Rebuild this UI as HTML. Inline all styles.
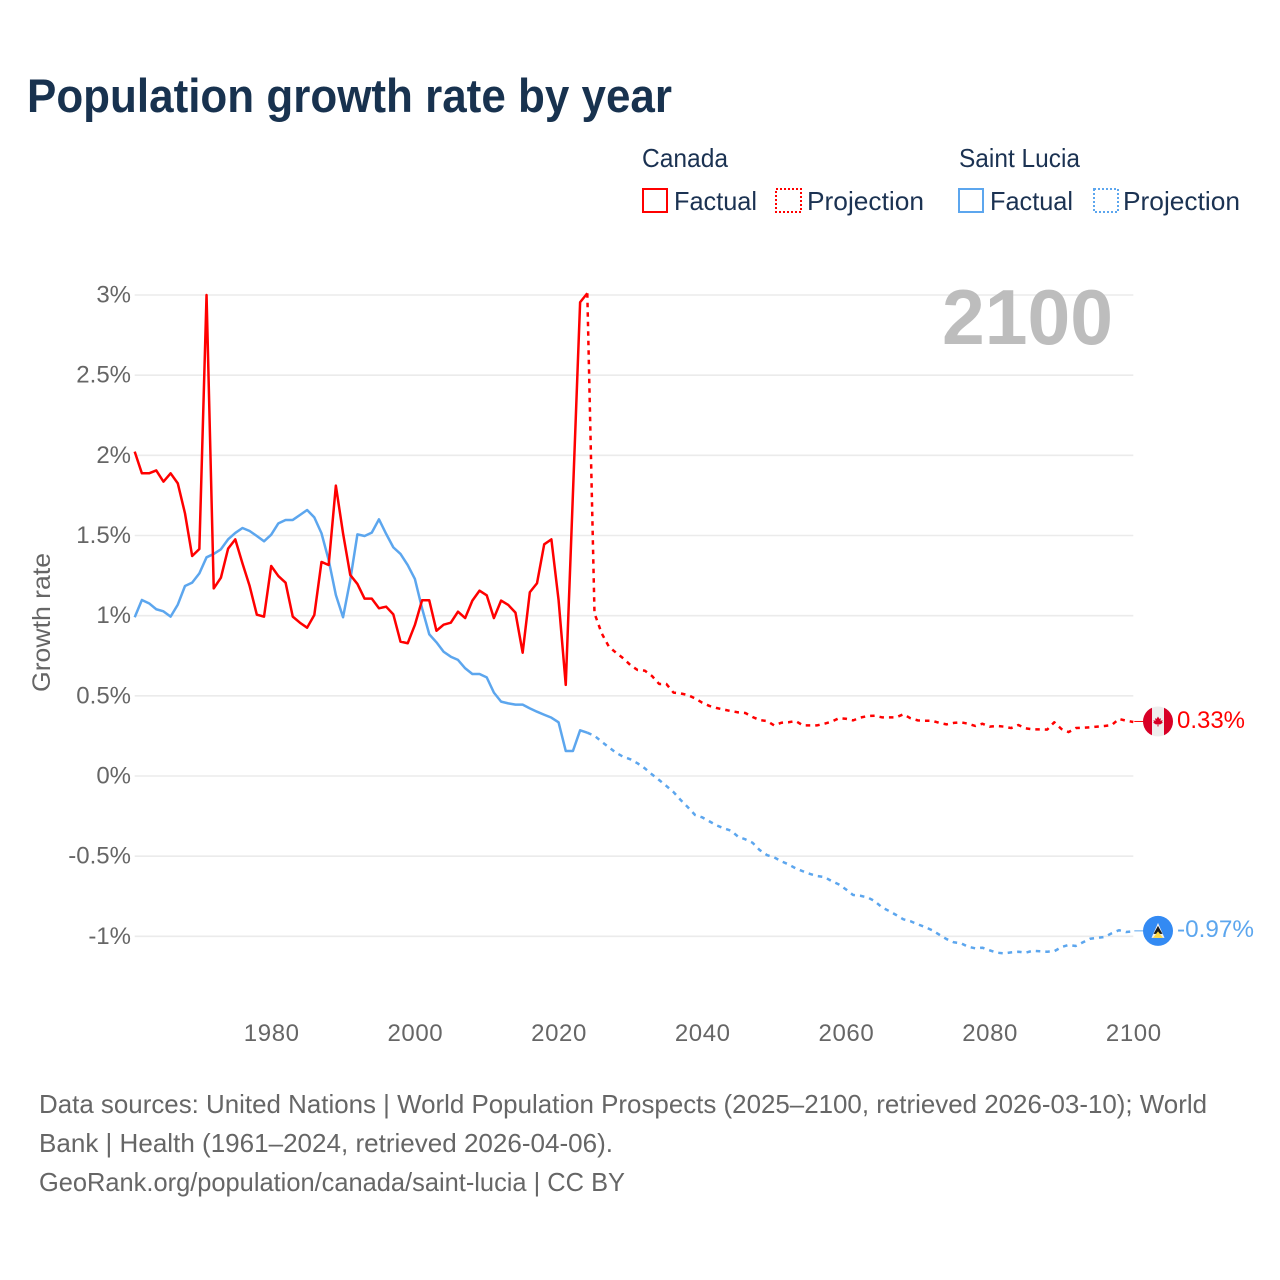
<!DOCTYPE html>
<html lang="en">
<head>
<meta charset="utf-8">
<title>Population growth rate by year</title>
<style>
html,body{margin:0;padding:0;background:#fff;width:1280px;height:1280px;overflow:hidden}
svg{display:block}
text{font-family:"Liberation Sans",sans-serif}
</style>
</head>
<body>
<svg id="chart" xmlns="http://www.w3.org/2000/svg" width="1280" height="1280" viewBox="0 0 1280 1280">
  <rect x="0" y="0" width="1280" height="1280" fill="#fff"/>
  <text x="27" y="112" font-size="47" font-weight="700" fill="#18324f" textLength="645" lengthAdjust="spacingAndGlyphs">Population growth rate by year</text>

  <g font-size="26" fill="#1b3252">
    <text x="642" y="167" textLength="86" lengthAdjust="spacingAndGlyphs">Canada</text>
    <text x="959" y="167" textLength="121" lengthAdjust="spacingAndGlyphs">Saint Lucia</text>
    <g>
      <rect x="643" y="189" width="24" height="23" fill="none" stroke="#ff0000" stroke-width="2"/>
      <text x="674" y="210" textLength="83" lengthAdjust="spacingAndGlyphs">Factual</text>
    </g>
    <g>
      <rect x="776" y="189" width="25" height="23" fill="none" stroke="#ff0000" stroke-width="2" stroke-dasharray="2 2"/>
      <text x="807" y="210" textLength="117" lengthAdjust="spacingAndGlyphs">Projection</text>
    </g>
    <g>
      <rect x="959" y="189" width="24" height="23" fill="none" stroke="#5ca6ee" stroke-width="2"/>
      <text x="990" y="210" textLength="83" lengthAdjust="spacingAndGlyphs">Factual</text>
    </g>
    <g>
      <rect x="1094" y="189" width="24" height="23" fill="none" stroke="#5ca6ee" stroke-width="2" stroke-dasharray="2 2"/>
      <text x="1123" y="210" textLength="117" lengthAdjust="spacingAndGlyphs">Projection</text>
    </g>
  </g>

  <g id="grid"></g>
  <g id="yaxis"></g>
  <g id="xaxis"></g>
  <text transform="translate(50,692) rotate(-90)" font-size="25" fill="#666" textLength="139" lengthAdjust="spacingAndGlyphs">Growth rate</text>
  <text x="942" y="344" font-size="78" font-weight="700" fill="#bdbdbd" textLength="171" lengthAdjust="spacingAndGlyphs">2100</text>

  <g id="series"></g>

  <g id="flag-canada">
    <clipPath id="clip-ca"><circle cx="0" cy="0" r="15"/></clipPath>
    <g clip-path="url(#clip-ca)">
      <rect x="-15" y="-15" width="30" height="30" fill="#eeeeee"/>
      <rect x="-15" y="-15" width="9" height="30" fill="#d80027"/>
      <rect x="6" y="-15" width="9" height="30" fill="#d80027"/>
      <polygon points="0,-5 1.4,-2.6 3,-3.2 2.4,-0.6 4.6,-1.4 4,0.6 5,1.2 2,3 0.5,2.6 0.5,5 -0.5,5 -0.5,2.6 -2,3 -5,1.2 -4,0.6 -4.6,-1.4 -2.4,-0.6 -3,-3.2 -1.4,-2.6" fill="#d80027"/>
    </g>
  </g>
  <g id="flag-lucia">
    <circle cx="0" cy="0" r="15" fill="#338af3"/>
    <polygon points="0,-8 6.5,7 -6.5,7" fill="#f0f0f0"/>
    <polygon points="0,-5 4.5,3 -4.5,3" fill="#1a1a1a"/>
    <polygon points="0,0.5 5,7 -5,7" fill="#ffda44"/>
  </g>

  <g font-size="26" fill="#666">
    <text x="39" y="1113" textLength="1168" lengthAdjust="spacingAndGlyphs">Data sources: United Nations | World Population Prospects (2025–2100, retrieved 2026-03-10); World</text>
    <text x="39" y="1152" textLength="574" lengthAdjust="spacingAndGlyphs">Bank | Health (1961–2024, retrieved 2026-04-06).</text>
    <text x="39" y="1191" textLength="586" lengthAdjust="spacingAndGlyphs">GeoRank.org/population/canada/saint-lucia | CC BY</text>
  </g>
</svg>
<script>
const yTickValues = [3, 2.5, 2, 1.5, 1, 0.5, 0, -0.5, -1];
const yTickLabels = ["3%", "2.5%", "2%", "1.5%", "1%", "0.5%", "0%", "-0.5%", "-1%"];
const xTickValues = [1980, 2000, 2020, 2040, 2060, 2080, 2100];
const xTickLabels = ["1980", "2000", "2020", "2040", "2060", "2080", "2100"];
const factualStartYear = 1961;
const projectionStartYear = 2024;
const canadaFactual = [2.023,1.888,1.888,1.906,1.836,1.888,1.825,1.638,1.372,1.416,3.0,1.17,1.237,1.418,1.476,1.326,1.185,1.006,0.994,1.31,1.247,1.206,0.994,0.956,0.925,1.004,1.335,1.316,1.811,1.514,1.254,1.198,1.106,1.106,1.046,1.056,1.008,0.838,0.828,0.942,1.096,1.096,0.906,0.944,0.956,1.025,0.985,1.094,1.156,1.127,0.985,1.094,1.067,1.019,0.769,1.146,1.202,1.445,1.476,1.098,0.568,1.761,2.955,3.011];
const luciaFactual = [0.99,1.098,1.077,1.04,1.027,0.994,1.069,1.185,1.206,1.264,1.364,1.385,1.414,1.476,1.516,1.547,1.528,1.497,1.464,1.505,1.576,1.597,1.597,1.628,1.659,1.613,1.514,1.347,1.129,0.99,1.222,1.507,1.497,1.518,1.601,1.51,1.426,1.385,1.316,1.229,1.046,0.884,0.834,0.775,0.744,0.724,0.672,0.636,0.636,0.615,0.52,0.464,0.453,0.445,0.445,0.422,0.401,0.382,0.364,0.335,0.156,0.156,0.285,0.27];
const canadaProjection = [3.011,1.015,0.89,0.807,0.769,0.734,0.692,0.661,0.657,0.624,0.574,0.574,0.52,0.515,0.505,0.484,0.457,0.437,0.424,0.414,0.405,0.397,0.393,0.368,0.349,0.343,0.316,0.332,0.335,0.343,0.316,0.316,0.316,0.326,0.339,0.36,0.357,0.347,0.364,0.374,0.376,0.366,0.366,0.366,0.385,0.36,0.347,0.345,0.345,0.331,0.322,0.331,0.335,0.326,0.312,0.326,0.308,0.312,0.308,0.299,0.318,0.297,0.291,0.291,0.289,0.335,0.293,0.274,0.299,0.301,0.304,0.308,0.312,0.318,0.356,0.345,0.337];
const luciaProjection = [0.27,0.251,0.214,0.179,0.145,0.12,0.104,0.079,0.048,0.01,-0.025,-0.062,-0.1,-0.15,-0.195,-0.243,-0.258,-0.283,-0.308,-0.326,-0.341,-0.379,-0.395,-0.416,-0.462,-0.493,-0.507,-0.532,-0.551,-0.576,-0.594,-0.611,-0.624,-0.63,-0.655,-0.676,-0.707,-0.742,-0.747,-0.757,-0.78,-0.819,-0.842,-0.867,-0.894,-0.906,-0.925,-0.942,-0.962,-0.99,-1.017,-1.037,-1.043,-1.065,-1.075,-1.071,-1.087,-1.102,-1.106,-1.1,-1.096,-1.102,-1.09,-1.093,-1.096,-1.093,-1.067,-1.054,-1.06,-1.037,-1.015,-1.009,-1.004,-0.981,-0.962,-0.973,-0.969];
const canadaValueLabel = "0.33%";
const luciaValueLabel = "-0.97%";

const NS = "http://www.w3.org/2000/svg";
const xScale = year => 134.7 + (year - 1961) * (1133.3 - 134.7) / (2100 - 1961);
const yScale = pct => 776 - pct * 160.33;
const RED = "#ff0000";
const BLUE = "#5ca6ee";

function svgEl(tag, attrs, parent) {
  const el = document.createElementNS(NS, tag);
  for (const k in attrs) el.setAttribute(k, attrs[k]);
  parent.appendChild(el);
  return el;
}
function linePoints(values, startYear) {
  return values.map((v, i) => xScale(startYear + i).toFixed(2) + "," + yScale(v).toFixed(2)).join(" ");
}

const grid = document.getElementById("grid");
const yaxis = document.getElementById("yaxis");
const xaxis = document.getElementById("xaxis");
const series = document.getElementById("series");

yTickValues.forEach((v, i) => {
  const line = svgEl("line", {x1: 134.7, x2: 1133.3, y1: yScale(v), y2: yScale(v), stroke: "#ebebeb", "stroke-width": 1.6}, grid);
  
  
  const t = svgEl("text", {x: 131, y: yScale(v) + 7.5, "text-anchor": "end", "font-size": 24, fill: "#666"}, yaxis);
  
  
  t.textContent = yTickLabels[i];
});

xTickValues.forEach((v, i) => {
  const t = svgEl("text", {x: xScale(v) + 0.5, y: 1041, "text-anchor": "middle", "font-size": 24, "letter-spacing": 0.6, fill: "#666"}, xaxis);
  
  
  t.textContent = xTickLabels[i];
});

function drawLine(values, startYear, color, dashed, name) {
  const attrs = {points: linePoints(values, startYear), fill: "none", stroke: color, "stroke-width": 2.5, "stroke-linejoin": "round"};
  if (dashed) attrs["stroke-dasharray"] = "4.5 5";
  const p = svgEl("polyline", attrs, series);
  
  
}
drawLine(luciaFactual, factualStartYear, BLUE, false, "line-saint-lucia-factual");
drawLine(luciaProjection, projectionStartYear, BLUE, true, "line-saint-lucia-projection");
drawLine(canadaFactual, factualStartYear, RED, false, "line-canada-factual");
drawLine(canadaProjection, projectionStartYear, RED, true, "line-canada-projection");

function endMarker(values, color, flagId, label, labelWidth, labelDy, name) {
  const y = yScale(values[values.length - 1]);
  const x = xScale(2100);
  const c = svgEl("line", {x1: x + 1, x2: x + 10, y1: y - 0.5, y2: y - 0.5, stroke: color, "stroke-width": 1}, series);
  
  
  document.getElementById(flagId).setAttribute("transform", "translate(" + (x + 24.7) + "," + (y - 0.5) + ")");
  const t = svgEl("text", {x: x + 43.7, y: y + labelDy, "font-size": 24, fill: color, textLength: labelWidth, lengthAdjust: "spacingAndGlyphs"}, series);
  
  
  t.textContent = label;
}
endMarker(canadaProjection, RED, "flag-canada", canadaValueLabel, 68, 6, "canada");
endMarker(luciaProjection, BLUE, "flag-lucia", luciaValueLabel, 77, 5.5, "saint-lucia");
</script>
</body>
</html>
